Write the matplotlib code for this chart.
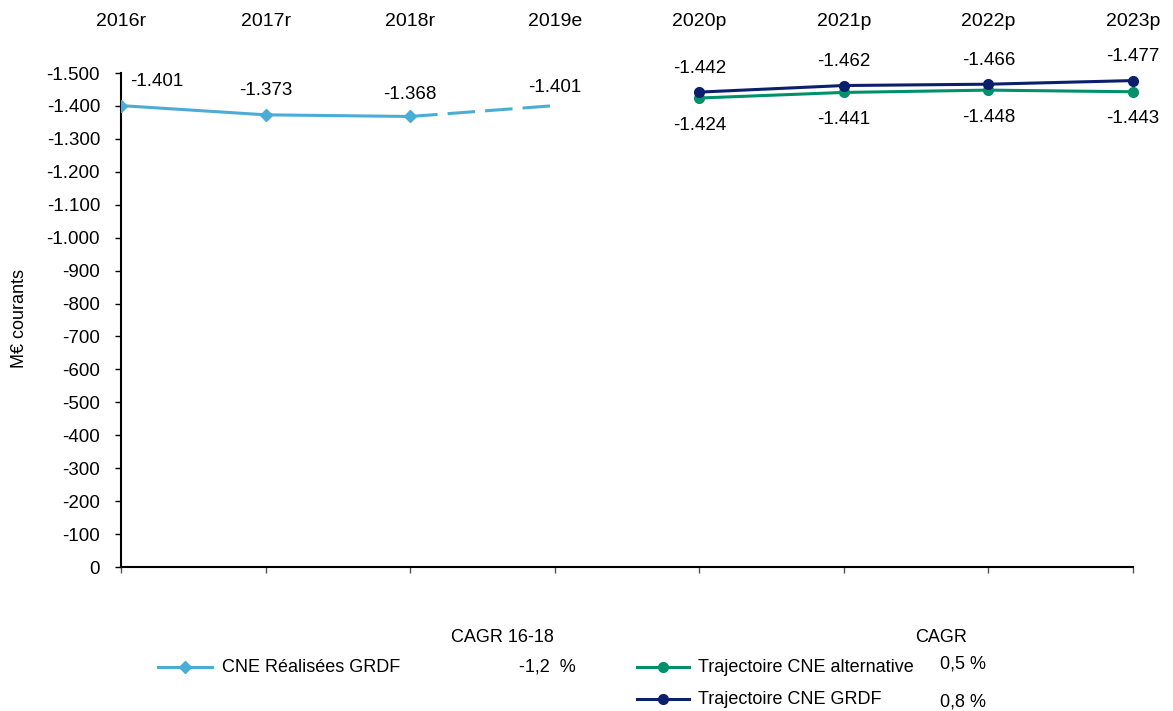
import matplotlib
matplotlib.use("Agg")
import matplotlib.pyplot as plt
from matplotlib.lines import Line2D

plt.rcParams['font.family'] = ['Liberation Sans', 'DejaVu Sans']

categories = ["2016r", "2017r", "2018r", "2019e", "2020p", "2021p", "2022p", "2023p"]
realised = [-1401, -1373, -1368]
estimate_2019 = -1401
grdf = [-1442, -1462, -1466, -1477]
alternative = [-1424, -1441, -1448, -1443]
yticks = list(range(0, -1501, -100))

c_blue = "#4BACD6"
c_green = "#00906A"
c_navy = "#0B1F6B"

def fmt(v):
    s = f"{abs(v):,}".replace(",", ".")
    return ("-" if v < 0 else "") + s

W, H = 1173, 711
PT = 72 / 100  # points per pixel
fig = plt.figure(figsize=(W / 100, H / 100), dpi=100)
ax = fig.add_axes([121 / W, 1 - 567 / H, (1133 - 121) / W, (567 - 73) / H])

x_real = [0, 1, 2]
ax.plot(x_real, realised, color=c_blue, lw=2.2, marker="D", ms=6, zorder=3)
ax.plot([2, 3], [realised[-1], estimate_2019], color=c_blue, lw=2.2, ls=(0, (9, 3.3)), zorder=2)
x_proj = [4, 5, 6, 7]
ax.plot(x_proj, alternative, color=c_green, lw=2.2, marker="o", ms=7, zorder=3, clip_on=False)
ax.plot(x_proj, grdf, color=c_navy, lw=2.2, marker="o", ms=7, zorder=4, clip_on=False)

ax.set_xlim(0, 7)
ax.set_ylim(0, -1500)
ax.set_yticks(yticks)
ax.set_yticklabels([fmt(v) for v in yticks], fontsize=13.5)
ax.set_xticks(range(len(categories)))
ax.set_xticklabels([])
ax.tick_params(axis="x", direction="out", length=4, width=1, color="#555555")
ax.tick_params(axis="y", direction="out", length=6 * PT, width=1, pad=15 * PT)
for s in ["top", "right"]:
    ax.spines[s].set_visible(False)
for s in ["left", "bottom"]:
    ax.spines[s].set_linewidth(1.5)

fig.text(20 / W, 1 - 318 / H, "M€ courants", fontsize=13, rotation=90,
         ha="center", va="center")

# category labels at top
for i, c in enumerate(categories):
    ax.annotate(c, xy=(i, 1), xycoords=("data", "axes fraction"), xytext=(0, 51 * PT),
                textcoords="offset points", ha="center", va="center", fontsize=14)

# data labels
fs = 13.5
ax.annotate(fmt(realised[0]), xy=(0, realised[0]), xytext=(9 * PT, 24 * PT), textcoords="offset points",
            ha="left", va="center", fontsize=fs)
for i, dy in zip([1, 2], [24, 22]):
    ax.annotate(fmt(realised[i]), xy=(i, realised[i]), xytext=(0, dy * PT), textcoords="offset points",
                ha="center", va="center", fontsize=fs)
ax.annotate(fmt(estimate_2019), xy=(3, estimate_2019), xytext=(0, 18 * PT), textcoords="offset points",
            ha="center", va="center", fontsize=fs)
for i, v in zip(x_proj, grdf):
    ax.annotate(fmt(v), xy=(i, v), xytext=(0, 24 * PT), textcoords="offset points",
                ha="center", va="center", fontsize=fs)
for i, v in zip(x_proj, alternative):
    ax.annotate(fmt(v), xy=(i, v), xytext=(0, -27 * PT), textcoords="offset points",
                ha="center", va="center", fontsize=fs)

# custom legend
def fx(px):
    return px / W

def fy(py):
    return 1 - py / H

def legend_line(x0, x1, y, color, marker, ms):
    fig.add_artist(Line2D([fx(x0), fx(x1)], [fy(y), fy(y)], color=color, lw=2.2,
                          transform=fig.transFigure))
    fig.add_artist(Line2D([fx((x0 + x1) / 2)], [fy(y)], color=color, marker=marker, ms=ms,
                          lw=0, transform=fig.transFigure))

lfs = 13
legend_line(158, 212, 667, c_blue, "D", 6)
fig.text(fx(222), fy(667), "CNE Réalisées GRDF", fontsize=lfs, va="center", ha="left")
fig.text(fx(502), fy(638), "CAGR 16-18", fontsize=lfs, va="center", ha="center")
fig.text(fx(547), fy(667), "-1,2  %", fontsize=lfs, va="center", ha="center")

legend_line(637, 689, 667, c_green, "o", 7)
fig.text(fx(698), fy(667), "Trajectoire CNE alternative", fontsize=lfs, va="center", ha="left")
legend_line(637, 689, 699, c_navy, "o", 7)
fig.text(fx(698), fy(699), "Trajectoire CNE GRDF", fontsize=lfs, va="center", ha="left")
fig.text(fx(941), fy(638), "CAGR", fontsize=lfs, va="center", ha="center")
fig.text(fx(963), fy(664), "0,5 %", fontsize=lfs, va="center", ha="center")
fig.text(fx(963), fy(702), "0,8 %", fontsize=lfs, va="center", ha="center")

fig.savefig("out.png", dpi=100)
